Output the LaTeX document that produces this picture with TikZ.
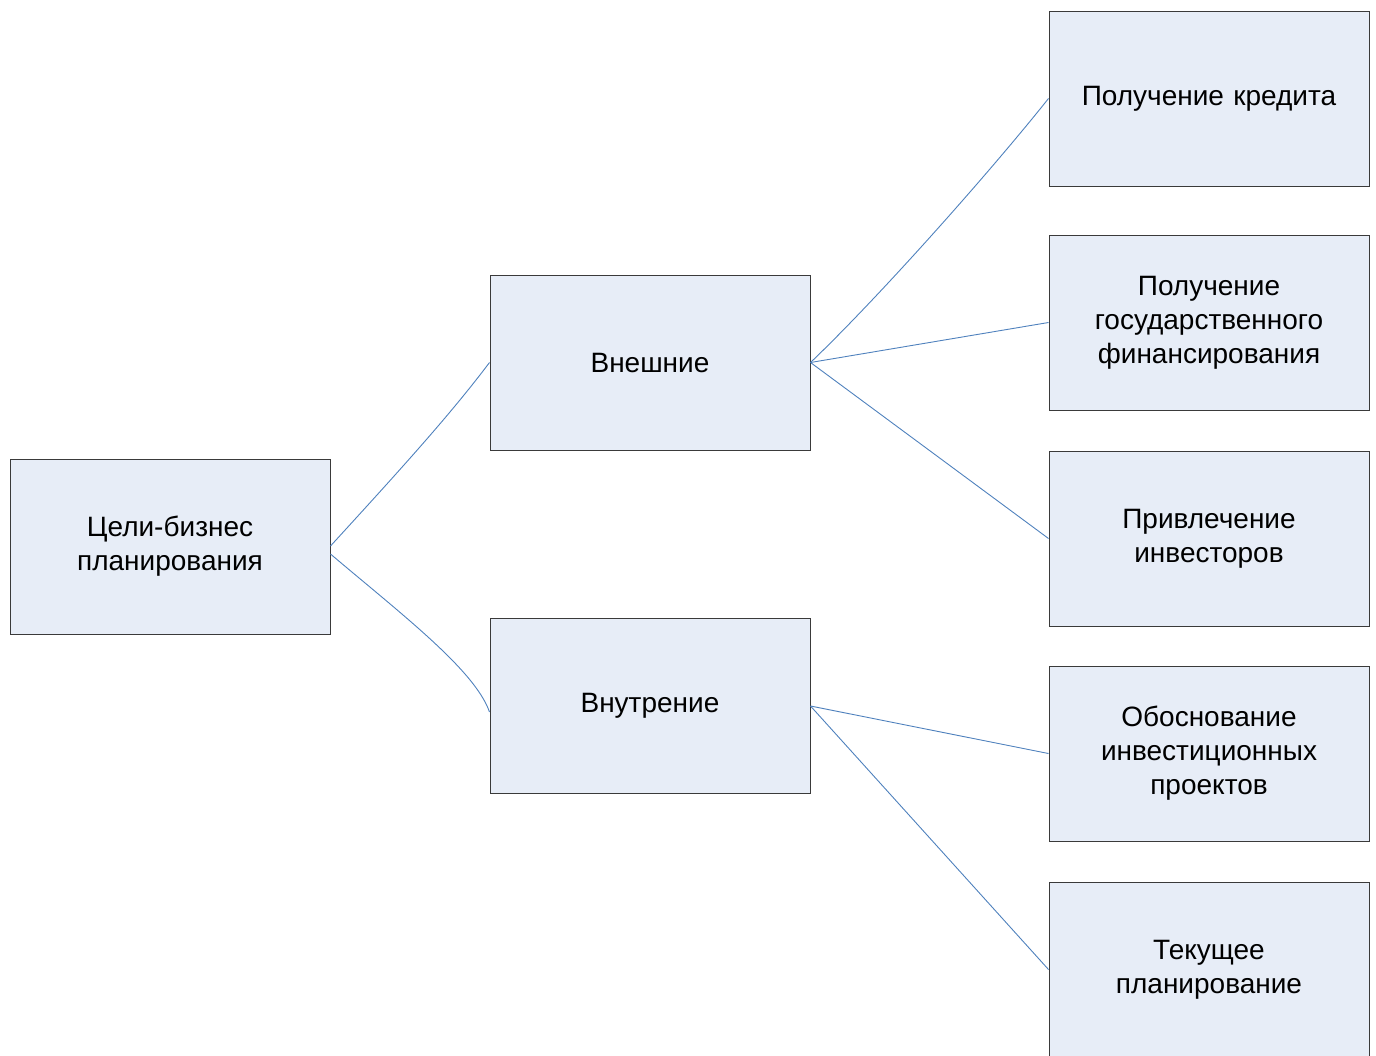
\documentclass[tikz,border=0pt]{standalone}
\usepackage{fontspec}
\setmainfont{Liberation Sans}
\definecolor{boxfill}{HTML}{E7EDF7}
\definecolor{boxline}{HTML}{3A3A3A}
\definecolor{conn}{HTML}{4F81BD}
\begin{document}
\begin{tikzpicture}[x=1pt,y=-1pt,
  boxst/.style={draw=boxline, line width=1pt, fill=boxfill, minimum width=320pt, minimum height=175pt,
    inner sep=0pt, align=center, text width=310pt,
    font=\fontsize{28pt}{34pt}\selectfont},
  link/.style={draw=conn, line width=0.9pt}]
\useasboundingbox (0,0) rectangle (1376,1055);
\begin{scope}
\clip (0,0) rectangle (1376,1055);
\node[boxst] (root) at (170,546.5) {Цели-бизнес\\планирования};
\node[boxst] (ext) at (650,362.5) {Внешние};
\node[boxst] (int) at (650,706) {Внутрение};
\node[boxst] (r1) at (1209,98.5) {Получение кредита};
\node[boxst] (r2) at (1209,322.5) {Получение\\государственного\\финансирования};
\node[boxst] (r3) at (1209,538.5) {Привлечение\\инвесторов};
\node[boxst] (r4) at (1209,753.5) {Обоснование\\инвестиционных\\проектов};
\node[boxst] (r5) at (1209,969.5) {Текущее\\планирование};
\coordinate (rootA) at ([yshift=0.5pt]root.east);
\coordinate (rootB) at ([yshift=-7.5pt]root.east);
\coordinate (intB) at ([yshift=-6pt]int.west);
\draw[link] (rootA) .. controls (400,470) and (450,415) .. (ext.west);
\draw[link] (rootB) .. controls (400,613) and (475,670) .. (intB);
\draw[link] (ext.east) .. controls (880,296) and (990,172) .. (r1.west);
\draw[link] (ext.east) -- (r2.west);
\draw[link] (ext.east) -- (r3.west);
\draw[link] (int.east) -- (r4.west);
\draw[link] (int.east) -- (r5.west);
\end{scope}
\end{tikzpicture}
\end{document}
